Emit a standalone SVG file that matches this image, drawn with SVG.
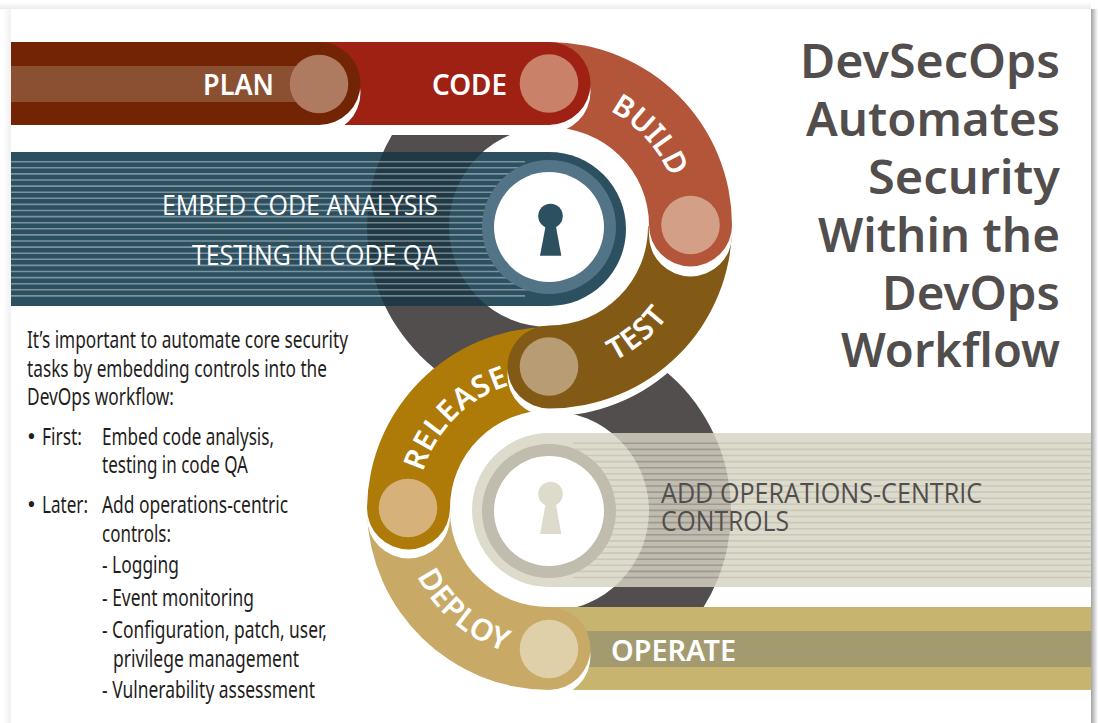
<svg xmlns="http://www.w3.org/2000/svg" xmlns:xlink="http://www.w3.org/1999/xlink" width="1098" height="723" viewBox="0 0 1098 723">
<style>
.lbl{font-family:"Noto Sans","Open Sans",sans-serif;font-weight:600;font-size:29px;fill:#fff}
.arc{font-size:30px;letter-spacing:.8px}
.title{font-family:"Noto Sans","Open Sans",sans-serif;font-weight:600;font-size:46px;fill:#524e4d}
.body{font-family:"Noto Sans","Open Sans",sans-serif;font-size:23.500px;fill:#1f1e1d}
.band{font-family:"Open Sans","Noto Sans",sans-serif;font-weight:400;font-size:27px}
</style>
<defs>
<linearGradient id="shR" x1="0" x2="1" y1="0" y2="0"><stop offset="0" stop-color="#a3a3a3"/><stop offset="1" stop-color="#fff"/></linearGradient>
<linearGradient id="shT" x1="0" x2="0" y1="0" y2="1"><stop offset="0" stop-color="#fff"/><stop offset="1" stop-color="#ebebeb"/></linearGradient>
<linearGradient id="shL" x1="0" x2="1" y1="0" y2="0"><stop offset="0" stop-color="#fff"/><stop offset="1" stop-color="#f0f0f0"/></linearGradient>
<path id="ringT" fill-rule="evenodd" d="M367 227a182 182 0 1 0 364 0a182 182 0 1 0 -364 0ZM449 227a100 100 0 1 0 200 0a100 100 0 1 0 -200 0Z"/>
<path id="ringL" fill-rule="evenodd" d="M367 511a182 182 0 1 0 364 0a182 182 0 1 0 -364 0ZM449 511a100 100 0 1 0 200 0a100 100 0 1 0 -200 0Z"/>
<clipPath id="cGreyT"><rect x="0" y="135" width="549" height="300"/></clipPath>
<clipPath id="cGreyL"><rect x="549" y="300" width="300" height="307"/></clipPath>
<clipPath id="cBandT"><rect x="0" y="152" width="549" height="154"/></clipPath>
<clipPath id="cBandL"><rect x="549" y="433" width="600" height="154"/></clipPath>
<clipPath id="cRingL"><path clip-rule="evenodd" d="M367 511a182 182 0 1 0 364 0a182 182 0 1 0 -364 0ZM449 511a100 100 0 1 0 200 0a100 100 0 1 0 -200 0Z"/></clipPath>
<path id="shapeDeploy" d="M367 513A183 183 0 0 0 549 690A41.5 41.5 0 0 0 549 607A99 96 0 0 1 450 513Z"/>
<path id="shapeRelease" d="M549 327A183 183 0 0 0 367 508A41.5 41.5 0 0 0 450 508A99 98 0 0 1 549 410Z"/>
<path id="shapeTest" d="M732 226A183 182.500 0 0 1 549 408.500A41.500 41.500 0 0 1 549 325.500A99 98.500 0 0 0 648 226Z"/>
<path id="shapeBuild" d="M549 42A183 183 0 0 1 732 225A41.500 41.500 0 0 1 649 225A100 98 0 0 0 549 127Z"/>
<path id="shapeCode" d="M300 42H549A41.500 41.500 0 0 1 549 125H300Z"/>
<path id="shapePlan" d="M11 42H319A41.500 41.500 0 0 1 319 125H11Z"/>
<path id="tBuild" d="M549 96A131 131 0 0 1 680 227"/>
<path id="tTest" d="M549 376A149 149 0 0 0 698 227"/>
<path id="tRelease" d="M417 511A132 132 0 0 1 549 379"/>
<path id="tDeploy" d="M402 511A147 147 0 0 0 549 658"/>
</defs>
<rect width="1098" height="723" fill="#fff"/>
<g id="page-shadow">
<rect x="1091" y="9" width="7" height="714" fill="url(#shR)"/>
<rect x="0" y="2" width="1091" height="7" fill="url(#shT)"/>
<rect x="3" y="9" width="8" height="714" fill="url(#shL)"/>
</g>
<g id="grey-rings" fill="#524e4d">
<use href="#ringT" clip-path="url(#cGreyT)"/>
<use href="#ringL" clip-path="url(#cGreyL)"/>
</g>
<g id="embed-band">
<path d="M11 152H549A77 77 0 0 1 549 306H11Z" fill="#2c5060"/>
<use href="#ringT" clip-path="url(#cBandT)" fill="#1f3a46"/>
<path clip-path="url(#cBandT)" fill="none" stroke="#fff" stroke-opacity=".38" stroke-width="1.600" d="M11 161.700H525M11 167.800H549M11 173.900H549M11 180H549M11 186.100H549M11 192.200H549M11 198.300H549M11 204.400H549M11 210.500H549M11 216.600H549M11 222.700H549M11 228.800H549M11 234.900H549M11 241H549M11 247.100H549M11 253.200H549M11 259.300H549M11 265.400H549M11 271.500H549M11 277.600H549M11 283.700H549M11 289.800H549M11 295.900H525"/>
<circle cx="549" cy="227" r="67" fill="#537486"/>
<circle cx="549" cy="227" r="55" fill="#fff"/>
<circle cx="550.500" cy="216" r="12.300" fill="#2c5060"/>
<path d="M546 224H555.500L561.300 255.700H540Z" fill="#2c5060"/>
<text class="band" fill="#fff" x="162" y="214.500" textLength="276" lengthAdjust="spacingAndGlyphs">EMBED CODE ANALYSIS</text>
<text class="band" fill="#fff" x="192" y="264.500" textLength="246" lengthAdjust="spacingAndGlyphs">TESTING IN CODE QA</text>
</g>
<g id="operations-band">
<path d="M1091 433H549A77 77 0 0 0 549 587H1091Z" fill="#dddbcc"/>
<use href="#ringL" clip-path="url(#cBandL)" fill="#c0bdb0"/>
<path clip-path="url(#cBandL)" fill="none" stroke="#5a5650" stroke-opacity=".14" stroke-width="1.600" d="M573 443.300H1091M549 449.400H1091M549 455.500H1091M549 461.600H1091M549 467.700H1091M549 473.800H1091M549 479.900H1091M549 486H1091M549 492.100H1091M549 498.200H1091M549 504.300H1091M549 510.400H1091M549 516.500H1091M549 522.600H1091M549 528.700H1091M549 534.800H1091M549 540.900H1091M549 547H1091M549 553.100H1091M549 559.200H1091M549 565.300H1091M549 571.400H1091M573 577.500H1091"/>
<g clip-path="url(#cRingL)"><path fill="none" stroke="#5a5650" stroke-opacity=".22" stroke-width="1.600" d="M620 443.300H740M620 449.400H740M620 455.500H740M620 461.600H740M620 467.700H740M620 473.800H740M620 479.900H740M620 486H740M620 492.100H740M620 498.200H740M620 504.300H740M620 510.400H740M620 516.500H740M620 522.600H740M620 528.700H740M620 534.800H740M620 540.900H740M620 547H740M620 553.100H740M620 559.200H740M620 565.300H740M620 571.400H740M620 577.500H740"/></g>
<circle cx="549" cy="511" r="67" fill="#c0bdae"/>
<circle cx="549" cy="511" r="55" fill="#fff"/>
<circle cx="550.500" cy="494" r="12.300" fill="#dddbcc"/>
<path d="M546 502H555.500L561.300 534H540Z" fill="#dddbcc"/>
<text class="band" fill="#524e4d" x="661" y="503" textLength="321" lengthAdjust="spacingAndGlyphs">ADD OPERATIONS-CENTRIC</text>
<text class="band" fill="#524e4d" x="661" y="531" textLength="128" lengthAdjust="spacingAndGlyphs">CONTROLS</text>
</g>
<g id="operate">
<rect x="549" y="607" width="542" height="83" fill="#c7b46f"/>
<rect x="549" y="631" width="542" height="36" fill="#a49a6f"/>
<text class="lbl" x="611" y="660.500" textLength="125" lengthAdjust="spacingAndGlyphs">OPERATE</text>
</g>
<g id="deploy">
<circle cx="549" cy="656" r="41.500" fill="#fff"/>
<use href="#shapeDeploy" fill="#c8aa66"/>
<circle cx="549" cy="649" r="29.300" fill="#e0d0a9"/>
<text class="lbl arc"><textPath href="#tDeploy" startOffset="55%" text-anchor="middle">DEPLOY</textPath></text>
</g>
<g id="release">
<use href="#shapeRelease" fill="#fff" transform="translate(0 9)"/>
<use href="#shapeRelease" fill="#ae7a08"/>
<circle cx="408" cy="508" r="29.300" fill="#d6b27a"/>
<text class="lbl arc"><textPath href="#tRelease" startOffset="50%" text-anchor="middle">RELEASE</textPath></text>
</g>
<g id="test">
<use href="#shapeTest" fill="#fff" transform="translate(0 8)"/>
<use href="#shapeTest" fill="#835a15"/>
<circle cx="549" cy="366.500" r="29.300" fill="#b89d74"/>
<text class="lbl arc"><textPath href="#tTest" startOffset="44%" text-anchor="middle">TEST</textPath></text>
</g>
<g id="build">
<use href="#shapeBuild" fill="#fff" transform="translate(0 10)"/>
<use href="#shapeBuild" fill="#b35538"/>
<circle cx="690.500" cy="225" r="29.300" fill="#d49f87"/>
<text class="lbl arc" style="letter-spacing:0"><textPath href="#tBuild" startOffset="53%" text-anchor="middle">BUILD</textPath></text>
</g>
<g id="code">
<use href="#shapeCode" fill="#fff" transform="translate(0 8)"/>
<use href="#shapeCode" fill="#9f2114"/>
<circle cx="549" cy="83.500" r="29.300" fill="#c98169"/>
<text class="lbl" x="432" y="94.500" textLength="75" lengthAdjust="spacingAndGlyphs">CODE</text>
</g>
<g id="plan">
<use href="#shapePlan" fill="#fff" transform="translate(0 9)"/>
<use href="#shapePlan" fill="#722405"/>
<rect x="11" y="66" width="300" height="36" fill="#8b4f32"/>
<circle cx="319" cy="84" r="29.300" fill="#ae7b60"/>
<text class="lbl" x="203" y="95" textLength="71" lengthAdjust="spacingAndGlyphs">PLAN</text>
</g>
<g id="title">
<text class="title" x="800" y="78" textLength="260" lengthAdjust="spacingAndGlyphs">DevSecOps</text>
<text class="title" x="806" y="136" textLength="254" lengthAdjust="spacingAndGlyphs">Automates</text>
<text class="title" x="868" y="194" textLength="192" lengthAdjust="spacingAndGlyphs">Security</text>
<text class="title" x="818" y="252" textLength="242" lengthAdjust="spacingAndGlyphs">Within the</text>
<text class="title" x="882" y="310" textLength="178" lengthAdjust="spacingAndGlyphs">DevOps</text>
<text class="title" x="841" y="367" textLength="219" lengthAdjust="spacingAndGlyphs">Workflow</text>
</g>
<g id="body-text">
<text class="body" x="27" y="348" textLength="321" lengthAdjust="spacingAndGlyphs">It’s important to automate core security</text>
<text class="body" x="27" y="377" textLength="300" lengthAdjust="spacingAndGlyphs">tasks by embedding controls into the</text>
<text class="body" x="27" y="405" textLength="147" lengthAdjust="spacingAndGlyphs">DevOps workflow:</text>
<text class="body" x="27" y="445">•</text>
<text class="body" x="42" y="445" textLength="40" lengthAdjust="spacingAndGlyphs">First:</text>
<text class="body" x="102" y="445" textLength="172" lengthAdjust="spacingAndGlyphs">Embed code analysis,</text>
<text class="body" x="102" y="473" textLength="146" lengthAdjust="spacingAndGlyphs">testing in code QA</text>
<text class="body" x="27" y="513">•</text>
<text class="body" x="42" y="513" textLength="46" lengthAdjust="spacingAndGlyphs">Later:</text>
<text class="body" x="102" y="513" textLength="186" lengthAdjust="spacingAndGlyphs">Add operations-centric</text>
<text class="body" x="102" y="542" textLength="69" lengthAdjust="spacingAndGlyphs">controls:</text>
<text class="body" x="102" y="573" textLength="77" lengthAdjust="spacingAndGlyphs">- Logging</text>
<text class="body" x="102" y="606" textLength="152" lengthAdjust="spacingAndGlyphs">- Event monitoring</text>
<text class="body" x="102" y="638" textLength="225" lengthAdjust="spacingAndGlyphs">- Configuration, patch, user,</text>
<text class="body" x="113" y="667" textLength="186" lengthAdjust="spacingAndGlyphs">privilege management</text>
<text class="body" x="102" y="698" textLength="213" lengthAdjust="spacingAndGlyphs">- Vulnerability assessment</text>
</g>
</svg>
